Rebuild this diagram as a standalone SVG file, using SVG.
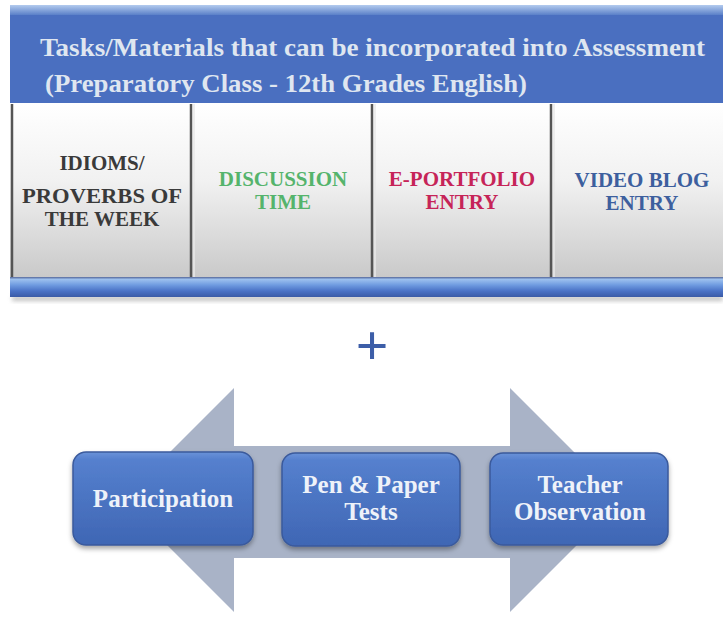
<svg xmlns="http://www.w3.org/2000/svg" width="723" height="620" viewBox="0 0 723 620">
  <defs>
    <linearGradient id="hdrTop" x1="0" y1="0" x2="0" y2="1">
      <stop offset="0" stop-color="#b3cbee"/>
      <stop offset="1" stop-color="#5a80c8"/>
    </linearGradient>
    <linearGradient id="cellFill" x1="0" y1="0" x2="0" y2="1">
      <stop offset="0" stop-color="#ffffff"/>
      <stop offset="0.45" stop-color="#f1f1f1"/>
      <stop offset="1" stop-color="#c9c9c9"/>
    </linearGradient>
    <linearGradient id="barFill" x1="0" y1="0" x2="0" y2="1">
      <stop offset="0" stop-color="#55689a"/>
      <stop offset="0.12" stop-color="#9cc0ee"/>
      <stop offset="0.4" stop-color="#6f9be0"/>
      <stop offset="0.7" stop-color="#4a72c6"/>
      <stop offset="1" stop-color="#3a5aa6"/>
    </linearGradient>
    <linearGradient id="boxFill" x1="0" y1="0" x2="0" y2="1">
      <stop offset="0" stop-color="#6a92d8"/>
      <stop offset="0.08" stop-color="#5580ce"/>
      <stop offset="1" stop-color="#3f66b4"/>
    </linearGradient>
    <filter id="shadow" x="-10%" y="-10%" width="120%" height="130%">
      <feDropShadow dx="0" dy="3" stdDeviation="2.5" flood-color="#000" flood-opacity="0.35"/>
    </filter>
    <filter id="soft" x="-5%" y="-50%" width="110%" height="200%">
      <feGaussianBlur stdDeviation="2"/>
    </filter>
  </defs>
  <style>
    text { font-family: "Liberation Serif", "DejaVu Serif", serif; font-weight: bold; }
    .title { font-size: 26px; fill: #dfe6f0; }
    .cell { font-size: 21px; text-anchor: middle; }
    .box { fill: url(#boxFill); stroke: #3a5a9c; stroke-width: 1.5; filter: url(#shadow); }
    .boxText { font-size: 25px; fill: #eef2f9; text-anchor: middle; }
    .divider { stroke: #555; stroke-width: 2.5; }
    .dividerHi { stroke: #e8e8e8; stroke-width: 1.5; }
  </style>

  <rect width="723" height="620" fill="#ffffff"/>

  <!-- Header band with the title -->
  <g id="header">
    <rect x="10" y="5" width="713" height="98" fill="#4a6fc0"/>
    <rect x="10" y="5" width="713" height="10" fill="url(#hdrTop)"/>
    <text class="title" x="40" y="56" textLength="665" lengthAdjust="spacingAndGlyphs">Tasks/Materials that can be  incorporated into Assessment</text>
    <text class="title" x="45" y="92" textLength="482" lengthAdjust="spacingAndGlyphs">(Preparatory Class - 12th Grades English)</text>
  </g>

  <!-- Row of task cells -->
  <g id="cells-bg">
    <rect x="10" y="103" width="713" height="175" fill="url(#cellFill)"/>
    <line class="divider" x1="12" y1="104" x2="12" y2="277"/>
    <line class="dividerHi" x1="194" y1="104" x2="194" y2="277"/>
    <line class="divider" x1="191" y1="104" x2="191" y2="277"/>
    <line class="dividerHi" x1="375" y1="104" x2="375" y2="277"/>
    <line class="divider" x1="372" y1="104" x2="372" y2="277"/>
    <line class="dividerHi" x1="554" y1="104" x2="554" y2="277"/>
    <line class="divider" x1="551" y1="104" x2="551" y2="277"/>
  </g>
  <g id="cell-idioms">
    <text class="cell" x="102" y="170" fill="#3a3a3a">IDIOMS/</text>
    <text class="cell" x="102" y="203" fill="#3a3a3a" textLength="160" lengthAdjust="spacingAndGlyphs">PROVERBS OF</text>
    <text class="cell" x="102" y="226" fill="#3a3a3a">THE WEEK</text>
  </g>
  <g id="cell-discussion">
    <text class="cell" x="283" y="186" fill="#55b46c">DISCUSSION</text>
    <text class="cell" x="283" y="209" fill="#55b46c">TIME</text>
  </g>
  <g id="cell-eportfolio">
    <text class="cell" x="462" y="186" fill="#c62458">E-PORTFOLIO</text>
    <text class="cell" x="462" y="209" fill="#c62458">ENTRY</text>
  </g>
  <g id="cell-videoblog">
    <text class="cell" x="642" y="187" fill="#3d5f9e">VIDEO BLOG</text>
    <text class="cell" x="642" y="210" fill="#3d5f9e">ENTRY</text>
  </g>

  <!-- Bottom band -->
  <g id="footer-bar">
    <rect x="12" y="296" width="711" height="5" fill="#888" opacity="0.5" filter="url(#soft)"/>
    <rect x="10" y="277" width="713" height="20" fill="url(#barFill)"/>
  </g>

  <!-- Plus sign -->
  <g id="plus">
    <text x="372" y="365" font-size="58" fill="#3d5ea8" text-anchor="middle">+</text>
  </g>

  <!-- Double-headed arrow behind the assessment boxes -->
  <g id="connectors">
    <path d="M122,500 L234,388 L234,446 L510,446 L510,388 L622,500 L510,612 L510,558 L234,558 L234,612 Z" fill="#a9b3c7"/>
  </g>

  <g id="node-participation">
    <rect class="box" x="73" y="452" width="180" height="93" rx="13"/>
    <text class="boxText" x="163" y="507">Participation</text>
  </g>
  <g id="node-penpaper">
    <rect class="box" x="282" y="453" width="178" height="93" rx="13"/>
    <text class="boxText" x="371" y="493">Pen &amp; Paper</text>
    <text class="boxText" x="371" y="520">Tests</text>
  </g>
  <g id="node-teacher">
    <rect class="box" x="490" y="453" width="178" height="92" rx="13"/>
    <text class="boxText" x="580" y="493">Teacher</text>
    <text class="boxText" x="580" y="520">Observation</text>
  </g>
</svg>
